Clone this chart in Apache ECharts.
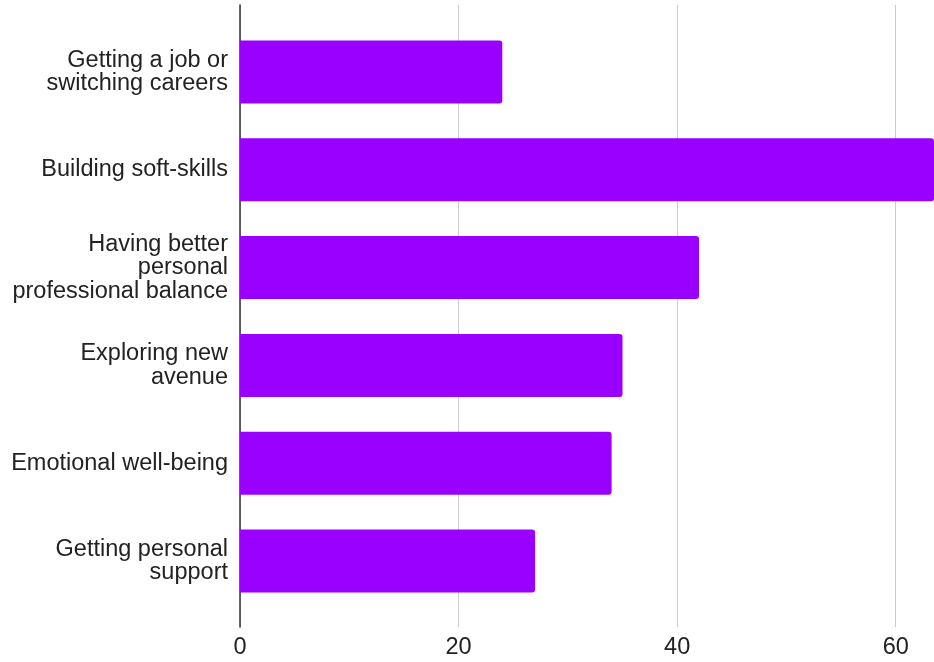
<!DOCTYPE html>
<html>
<head>
<meta charset="utf-8">
<script src="https://cdn.jsdelivr.net/npm/echarts@6/dist/echarts.min.js"></script>
<style>
  html, body { margin: 0; padding: 0; background: #fff; }
  #chart { width: 934px; height: 662px; }
</style>
</head>
<body>
<div id="chart"></div>
<script>
// Goals reported, one horizontal bar per reason
const categories = [
  'Getting a job or\nswitching careers',
  'Building soft-skills',
  'Having better\npersonal\nprofessional balance',
  'Exploring new\navenue',
  'Emotional well-being',
  'Getting personal\nsupport'
];
const values = [24, 64, 42, 35, 34, 27];
const axisMin = 0;
const axisMax = 63.5;
const tickStep = 20;

const FONT = 'Liberation Sans, Arial, sans-serif';
const chart = echarts.init(document.getElementById('chart'), null, { renderer: 'canvas' });

chart.setOption({
  animation: false,
  backgroundColor: '#ffffff',
  grid: [
    // outer frame: gridlines, value labels, baseline
    { left: 240, right: 0, top: 5, bottom: 35, containLabel: false },
    // inner frame: category bands and bars
    { left: 240, right: 0, top: 23, bottom: 52, containLabel: false }
  ],
  xAxis: [
    {
      gridIndex: 0, type: 'value', min: axisMin, max: axisMax, interval: tickStep,
      axisLine: { show: false }, axisTick: { show: false },
      splitLine: { show: true, lineStyle: { color: '#cccccc', width: 1 } },
      axisLabel: { color: '#222', fontSize: 23.5, fontFamily: FONT, margin: 9, showMaxLabel: false }
    },
    {
      gridIndex: 1, type: 'value', min: axisMin, max: axisMax, interval: tickStep,
      show: false
    }
  ],
  yAxis: [
    {
      gridIndex: 0, type: 'category', data: [''],
      axisLine: { show: true, lineStyle: { color: '#333', width: 1.5 } },
      axisTick: { show: false }, axisLabel: { show: false }, splitLine: { show: false }
    },
    {
      gridIndex: 1, type: 'category', data: categories, inverse: true,
      axisLine: { show: false }, axisTick: { show: false }, splitLine: { show: false },
      axisLabel: {
        color: '#222', fontSize: 23.5, fontFamily: FONT, margin: 12,
        align: 'right', lineHeight: 23.5
      }
    }
  ],
  series: [
    {
      type: 'bar', xAxisIndex: 1, yAxisIndex: 1,
      data: values, barWidth: 63, clip: true,
      itemStyle: { color: '#9900ff', borderRadius: [0, 3, 3, 0] }
    }
  ]
});
</script>
</body>
</html>
